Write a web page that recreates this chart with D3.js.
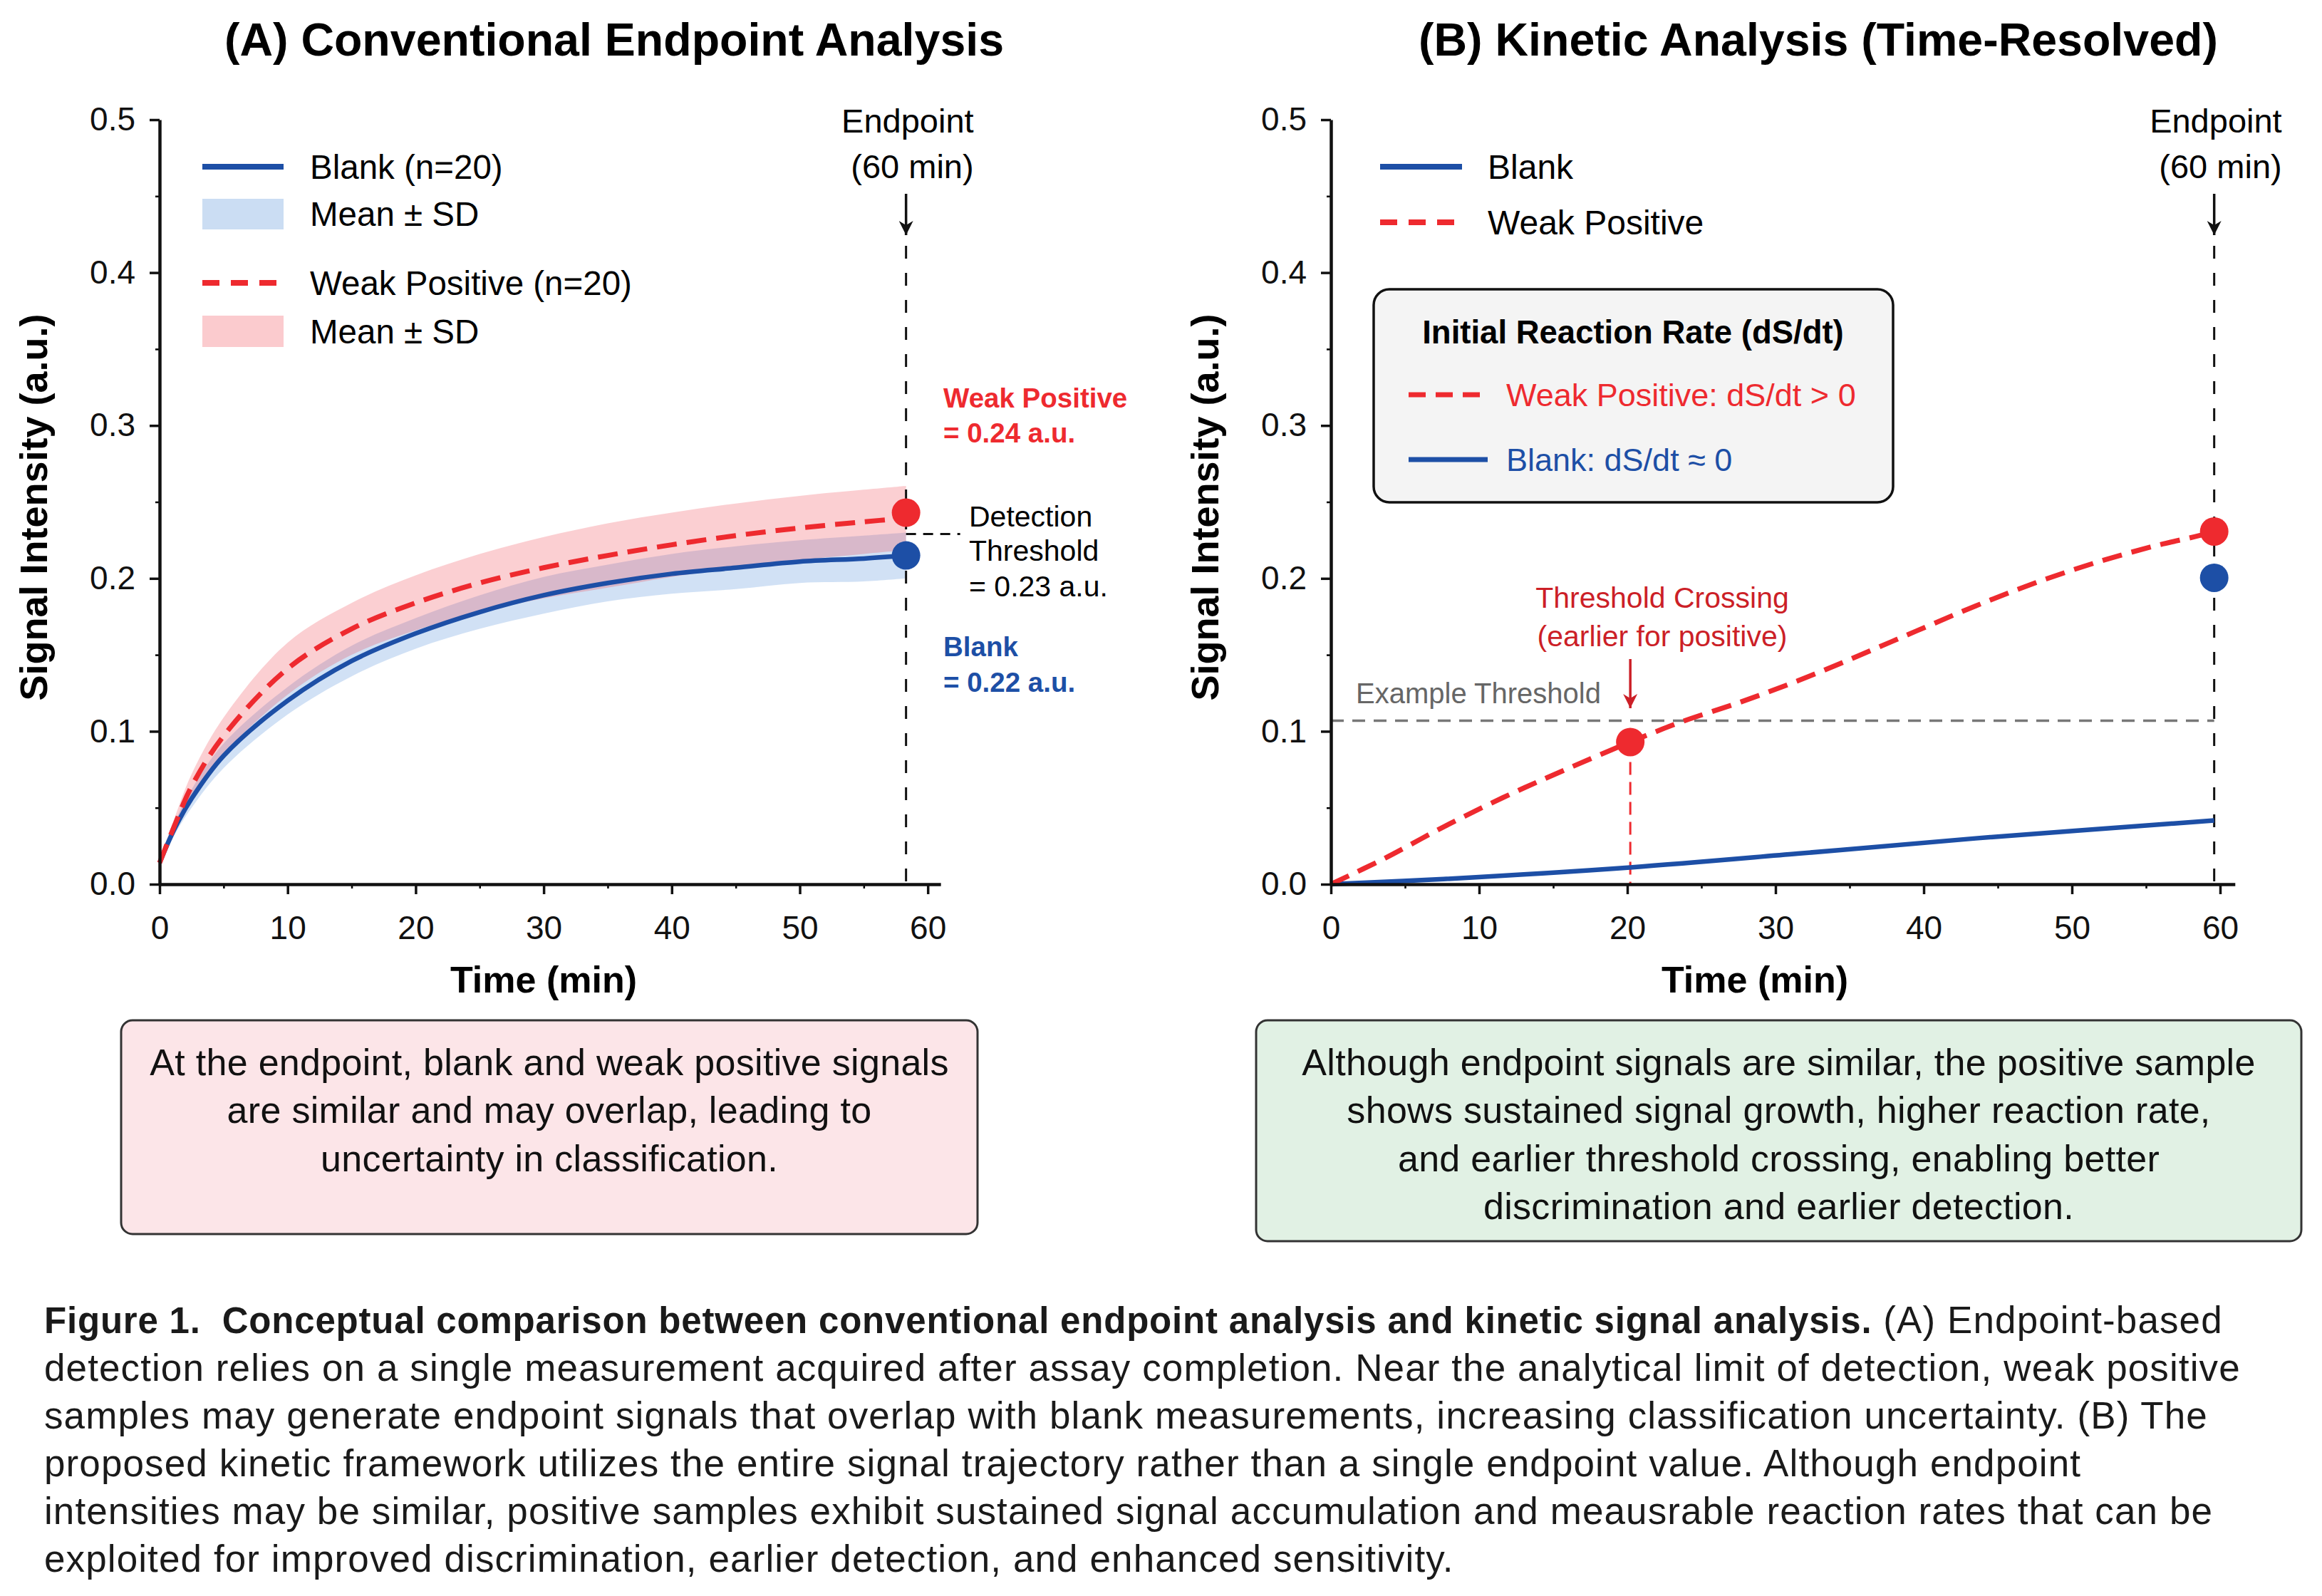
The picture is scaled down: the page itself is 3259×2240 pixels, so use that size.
<!DOCTYPE html>
<html>
<head>
<meta charset="utf-8">
<script src="https://cdn.jsdelivr.net/npm/d3@7"></script>
<style>
  body { margin: 0; background: #ffffff; }
  text { font-family: "Liberation Sans", Arial, Helvetica, sans-serif; }
</style>
</head>
<body>
<div id="chart"></div>
<script>
//Data

const ticksX = [0, 10, 20, 30, 40, 50, 60];
const minorX = [5, 15, 25, 35, 45, 55];
const ticksY = [0, 0.1, 0.2, 0.3, 0.4, 0.5];
const minorY = [0.05, 0.15, 0.25, 0.35, 0.45];

//Panel A: endpoint curves (mean and SD)
const timeA   = [0, 1.15, 2.5, 5, 10, 15, 20, 25, 30, 35, 40, 45, 50, 55, 58.3];
const blankA  = [0.014, 0.036, 0.056, 0.084, 0.120, 0.146, 0.164, 0.178, 0.189, 0.197, 0.203, 0.207, 0.211, 0.213, 0.215];
const blankSdA = [0.002, 0.004, 0.006, 0.008, 0.009, 0.010, 0.010, 0.011, 0.012, 0.012, 0.013, 0.014, 0.014, 0.015, 0.015];
const weakA   = [0.014, 0.038, 0.064, 0.097, 0.141, 0.167, 0.184, 0.197, 0.207, 0.215, 0.222, 0.228, 0.233, 0.237, 0.2395];
const weakSdA = [0.002, 0.005, 0.008, 0.012, 0.017, 0.017, 0.018, 0.019, 0.020, 0.021, 0.021, 0.021, 0.021, 0.021, 0.021];
const endpointA = 58.3;
const endDotsA = [0.243, 0.215];   // weak positive, blank
const detectionThreshold = 0.229;

//Panel B: kinetic curves
const timeWeakB = [0, 3.6, 7.6, 11.6, 15.6, 20.2, 23.6, 27.6, 31.5, 35.5, 39.5, 43.5, 47.5, 51.5, 55.5, 58.6, 59.6];
const weakB     = [0, 0.0168, 0.0375, 0.0566, 0.074, 0.093, 0.106, 0.119, 0.133, 0.149, 0.1656, 0.182, 0.197, 0.210, 0.221, 0.228, 0.2307];
const timeBlankB = [0, 7.6, 20.2, 31.5, 43.5, 59.6];
const blankB     = [0, 0.0034, 0.011, 0.020, 0.030, 0.0417];
const endpointB = 59.6;
const endDotsB = [0.2307, 0.2004];
const exampleThreshold = 0.107;
const crossing = {t: 20.2, v: 0.093};

//Texts
const boxTextA = ["At the endpoint, blank and weak positive signals",
                  "are similar and may overlap, leading to",
                  "uncertainty in classification."];
const boxTextB = ["Although endpoint signals are similar, the positive sample",
                  "shows sustained signal growth, higher reaction rate,",
                  "and earlier threshold crossing, enabling better",
                  "discrimination and earlier detection."];
const captionLines = [
  "detection relies on a single measurement acquired after assay completion. Near the analytical limit of detection, weak positive",
  "samples may generate endpoint signals that overlap with blank measurements, increasing classification uncertainty. (B) The",
  "proposed kinetic framework utilizes the entire signal trajectory rather than a single endpoint value. Although endpoint",
  "intensities may be similar, positive samples exhibit sustained signal accumulation and meausrable reaction rates that can be",
  "exploited for improved discrimination, earlier detection, and enhanced sensitivity."];

//Colours

const RED = "#ee2a2f", BLUE = "#1d4fa6", DARKRED = "#cc1f27";
const smooth = d3.curveCatmullRom.alpha(0.5);

//Create the SVG

const svg = d3.select("#chart")
  .append("svg")
  .attr("width", 3259)
  .attr("height", 2240);

svg.append("rect").attr("width", 3259).attr("height", 2240).attr("fill", "#ffffff");

const defs = svg.append("defs");
function arrowMarker(id, color){
  defs.append("marker")
    .attr("id", id)
    .attr("viewBox", "0 0 10 10")
    .attr("refX", 10).attr("refY", 5)
    .attr("markerUnits", "userSpaceOnUse")
    .attr("markerWidth", 20).attr("markerHeight", 20)
    .attr("orient", "auto")
    .append("path")
    .attr("d", "M0,0 L10,5 L0,10 L3,5 Z")
    .attr("fill", color);
}
arrowMarker("arrowBlack", "#111");
arrowMarker("arrowRed", DARKRED);

//Axes helper

function drawAxes(x, y, cx){
  const g = svg.append("g").style("font-size", "46px");

  g.append("g")
   .attr("transform", "translate(0," + y.range()[0] + ")")
   .call(d3.axisBottom(x).tickValues(minorX).tickSize(6).tickSizeOuter(0).tickFormat(""))
   .call(a => a.select(".domain").remove())
   .selectAll("line").attr("stroke-width", 2.5);

  g.append("g")
   .attr("transform", "translate(" + x.range()[0] + ",0)")
   .call(d3.axisLeft(y).tickValues(minorY).tickSize(6).tickSizeOuter(0).tickFormat(""))
   .call(a => a.select(".domain").remove())
   .selectAll("line").attr("stroke-width", 2.5);

  const xa = g.append("g")
   .attr("transform", "translate(0," + y.range()[0] + ")")
   .call(d3.axisBottom(x).tickValues(ticksX).tickSize(14).tickPadding(30).tickSizeOuter(0));
  const ya = g.append("g")
   .attr("transform", "translate(" + x.range()[0] + ",0)")
   .call(d3.axisLeft(y).tickValues(ticksY).tickSize(14).tickPadding(20).tickSizeOuter(0).tickFormat(d3.format(".1f")));

  [xa, ya].forEach(a => {
    a.select(".domain").attr("stroke-width", 4.5).attr("stroke", "#111");
    a.selectAll(".tick line").attr("stroke-width", 3.5).attr("stroke", "#111");
    a.selectAll(".tick text").attr("fill", "#111").style("font-size", "46px");
  });

  //axis titles
  g.append("text")
   .attr("transform", "translate(" + (x.range()[0] - 158) + ",712) rotate(-90)")
   .attr("text-anchor", "middle")
   .style("font-size", "54px").style("font-weight", "bold")
   .text("Signal Intensity (a.u.)");

  g.append("text")
   .attr("x", cx).attr("y", 1393)
   .attr("text-anchor", "middle")
   .style("font-size", "52px").style("font-weight", "bold")
   .text("Time (min)");
}

function endpointMarker(x, y, t){
  const ex = x(t);
  svg.append("text").attr("x", ex + 95).attr("y", 186).attr("text-anchor", "end")
     .style("font-size", "47px").text("Endpoint");
  svg.append("text").attr("x", ex + 95).attr("y", 250).attr("text-anchor", "end")
     .style("font-size", "47px").text("(60 min)");
  svg.append("line")
     .attr("x1", ex).attr("x2", ex).attr("y1", 272).attr("y2", 330)
     .attr("stroke", "#111").attr("stroke-width", 3.5)
     .attr("marker-end", "url(#arrowBlack)");
  svg.append("line")
     .attr("x1", ex).attr("x2", ex).attr("y1", 345).attr("y2", y(0))
     .attr("stroke", "#111").attr("stroke-width", 3)
     .attr("stroke-dasharray", "18,20");
}

/* ---------------- Panel A ---------------- */

const xA = d3.scaleLinear().domain([0, 61]).range([224, 224 + 61 * 17.97]);
const yA = d3.scaleLinear().domain([0, 0.5]).range([1241, 168]);

svg.append("text").attr("x", 862).attr("y", 78).attr("text-anchor", "middle")
   .style("font-size", "64.5px").style("font-weight", "bold")
   .text("(A) Conventional Endpoint Analysis");

const dataA = timeA.map((t, i) => ({t: t, b: blankA[i], bs: blankSdA[i], w: weakA[i], ws: weakSdA[i]}));

//SD bands
svg.append("path").datum(dataA)
   .attr("fill", "#2f78d0").attr("fill-opacity", 0.22)
   .attr("d", d3.area().curve(smooth)
     .x(d => xA(d.t)).y0(d => yA(d.b - d.bs)).y1(d => yA(d.b + d.bs)));
svg.append("path").datum(dataA)
   .attr("fill", "#f0404a").attr("fill-opacity", 0.25)
   .attr("d", d3.area().curve(smooth)
     .x(d => xA(d.t)).y0(d => yA(d.w - d.ws)).y1(d => yA(d.w + d.ws)));

endpointMarker(xA, yA, endpointA);

//Mean lines
svg.append("path").datum(dataA)
   .attr("fill", "none").attr("stroke", BLUE).attr("stroke-width", 6.5)
   .attr("d", d3.line().curve(smooth).x(d => xA(d.t)).y(d => yA(d.b)));
svg.append("path").datum(dataA)
   .attr("fill", "none").attr("stroke", RED).attr("stroke-width", 7)
   .attr("stroke-dasharray", "28,14")
   .attr("d", d3.line().curve(smooth).x(d => xA(d.t)).y(d => yA(d.w)));

//Detection threshold tick
svg.append("line")
   .attr("x1", xA(endpointA)).attr("x2", xA(endpointA) + 76)
   .attr("y1", yA(detectionThreshold)).attr("y2", yA(detectionThreshold))
   .attr("stroke", "#111").attr("stroke-width", 3).attr("stroke-dasharray", "14,10");

//Endpoint dots
svg.selectAll(".dotA").data(endDotsA).enter().append("circle")
   .attr("cx", xA(endpointA)).attr("cy", d => yA(d)).attr("r", 20)
   .attr("fill", (d, i) => i === 0 ? RED : BLUE);

drawAxes(xA, yA, 763);

//Legend A
const legA = svg.append("g").style("font-size", "47.5px");
legA.append("line").attr("x1", 284).attr("x2", 398).attr("y1", 234).attr("y2", 234)
    .attr("stroke", BLUE).attr("stroke-width", 8);
legA.append("rect").attr("x", 284).attr("y", 279).attr("width", 114).attr("height", 43)
    .attr("fill", "#2f78d0").attr("fill-opacity", 0.25);
legA.append("line").attr("x1", 284).attr("x2", 398).attr("y1", 397).attr("y2", 397)
    .attr("stroke", RED).attr("stroke-width", 8).attr("stroke-dasharray", "24,16");
legA.append("rect").attr("x", 284).attr("y", 443).attr("width", 114).attr("height", 44)
    .attr("fill", "#f0404a").attr("fill-opacity", 0.27);
[["Blank (n=20)", 251], ["Mean \u00b1 SD", 317], ["Weak Positive (n=20)", 414], ["Mean \u00b1 SD", 482]]
  .forEach(d => legA.append("text").attr("x", 435).attr("y", d[1]).text(d[0]));

//Annotations A
const annA = svg.append("g").style("font-size", "41px");
annA.append("text").attr("x", 1324).attr("y", 572).attr("fill", RED).style("font-weight", "bold").style("font-size", "38.5px").text("Weak Positive");
annA.append("text").attr("x", 1324).attr("y", 621).attr("fill", RED).style("font-weight", "bold").style("font-size", "38.5px").text("= 0.24 a.u.");
annA.append("text").attr("x", 1360).attr("y", 739).text("Detection");
annA.append("text").attr("x", 1360).attr("y", 787).text("Threshold");
annA.append("text").attr("x", 1360).attr("y", 837).text("= 0.23 a.u.");
annA.append("text").attr("x", 1324).attr("y", 921).attr("fill", BLUE).style("font-weight", "bold").style("font-size", "38.5px").text("Blank");
annA.append("text").attr("x", 1324).attr("y", 971).attr("fill", BLUE).style("font-weight", "bold").style("font-size", "38.5px").text("= 0.22 a.u.");

/* ---------------- Panel B ---------------- */

const xB = d3.scaleLinear().domain([0, 61]).range([1868, 1868 + 61 * 20.8]);
const yB = d3.scaleLinear().domain([0, 0.5]).range([1241, 168]);

svg.append("text").attr("x", 2552).attr("y", 78).attr("text-anchor", "middle")
   .style("font-size", "64.5px").style("font-weight", "bold")
   .text("(B) Kinetic Analysis (Time-Resolved)");

//Example threshold
svg.append("line")
   .attr("x1", xB(0)).attr("x2", xB(endpointB))
   .attr("y1", yB(exampleThreshold)).attr("y2", yB(exampleThreshold))
   .attr("stroke", "#777").attr("stroke-width", 3.5).attr("stroke-dasharray", "18,12");
svg.append("text").attr("x", 1903).attr("y", 987).attr("fill", "#666")
   .style("font-size", "40px").text("Example Threshold");

endpointMarker(xB, yB, endpointB);

//Crossing drop line
svg.append("line")
   .attr("x1", xB(crossing.t)).attr("x2", xB(crossing.t))
   .attr("y1", yB(crossing.v)).attr("y2", yB(0))
   .attr("stroke", RED).attr("stroke-width", 3).attr("stroke-dasharray", "18,10");

//Curves
const dataWeakB = timeWeakB.map((t, i) => ({t: t, v: weakB[i]}));
const dataBlankB = timeBlankB.map((t, i) => ({t: t, v: blankB[i]}));

svg.append("path").datum(dataBlankB)
   .attr("fill", "none").attr("stroke", BLUE).attr("stroke-width", 6.5)
   .attr("d", d3.line().curve(smooth).x(d => xB(d.t)).y(d => yB(d.v)));
svg.append("path").datum(dataWeakB)
   .attr("fill", "none").attr("stroke", RED).attr("stroke-width", 7)
   .attr("stroke-dasharray", "28,14")
   .attr("d", d3.line().curve(smooth).x(d => xB(d.t)).y(d => yB(d.v)));

svg.append("circle").attr("cx", xB(crossing.t)).attr("cy", yB(crossing.v)).attr("r", 20).attr("fill", RED);
svg.selectAll(".dotB").data(endDotsB).enter().append("circle")
   .attr("cx", xB(endpointB)).attr("cy", d => yB(d)).attr("r", 20)
   .attr("fill", (d, i) => i === 0 ? RED : BLUE);

//Crossing annotation
svg.append("text").attr("x", 2333).attr("y", 853).attr("text-anchor", "middle")
   .attr("fill", DARKRED).style("font-size", "41px").text("Threshold Crossing");
svg.append("text").attr("x", 2333).attr("y", 907).attr("text-anchor", "middle")
   .attr("fill", DARKRED).style("font-size", "41px").text("(earlier for positive)");
svg.append("line")
   .attr("x1", xB(crossing.t)).attr("x2", xB(crossing.t)).attr("y1", 925).attr("y2", 994)
   .attr("stroke", DARKRED).attr("stroke-width", 3.5).attr("marker-end", "url(#arrowRed)");

drawAxes(xB, yB, 2463);

//Legend B
const legB = svg.append("g").style("font-size", "48px");
legB.append("line").attr("x1", 1937).attr("x2", 2052).attr("y1", 234).attr("y2", 234)
    .attr("stroke", BLUE).attr("stroke-width", 8);
legB.append("line").attr("x1", 1937).attr("x2", 2052).attr("y1", 312).attr("y2", 312)
    .attr("stroke", RED).attr("stroke-width", 8).attr("stroke-dasharray", "24,16");
legB.append("text").attr("x", 2088).attr("y", 251).text("Blank");
legB.append("text").attr("x", 2088).attr("y", 329).text("Weak Positive");

//Rate box
const rate = svg.append("g").style("font-size", "45px");
rate.append("rect").attr("x", 1928).attr("y", 406).attr("width", 729).attr("height", 299)
    .attr("rx", 22).attr("fill", "#f4f4f4").attr("stroke", "#111").attr("stroke-width", 3.5);
rate.append("text").attr("x", 2292).attr("y", 482).attr("text-anchor", "middle")
    .style("font-weight", "bold").style("font-size", "45.5px").text("Initial Reaction Rate (dS/dt)");
rate.append("line").attr("x1", 1977).attr("x2", 2088).attr("y1", 554).attr("y2", 554)
    .attr("stroke", RED).attr("stroke-width", 7).attr("stroke-dasharray", "24,14");
rate.append("text").attr("x", 2114).attr("y", 570).attr("fill", RED).text("Weak Positive: dS/dt > 0");
rate.append("line").attr("x1", 1977).attr("x2", 2088).attr("y1", 645).attr("y2", 645)
    .attr("stroke", BLUE).attr("stroke-width", 7);
rate.append("text").attr("x", 2114).attr("y", 661).attr("fill", BLUE).text("Blank: dS/dt \u2248 0");

/* ---------------- Text boxes ---------------- */

function textBox(x, y, w, h, fill, lines){
  svg.append("rect").attr("x", x).attr("y", y).attr("width", w).attr("height", h)
     .attr("rx", 16).attr("fill", fill).attr("stroke", "#333").attr("stroke-width", 3);
  svg.selectAll(null).data(lines).enter().append("text")
     .attr("x", x + w / 2).attr("y", (d, i) => 1509 + i * 67.3)
     .attr("text-anchor", "middle").attr("fill", "#111")
     .style("font-size", "52px").style("letter-spacing", "0.3px").text(d => d);
}
textBox(170, 1432, 1202, 300, "#fce5e8", boxTextA);
textBox(1763, 1432, 1467, 310, "#e1f1e4", boxTextB);

/* ---------------- Caption ---------------- */

const cap = svg.append("g").style("font-size", "53px").style("letter-spacing", "1.1px").attr("fill", "#1a1a1a");
const first = cap.append("text").attr("x", 62).attr("y", 1871).attr("xml:space", "preserve");
first.append("tspan").style("font-weight", "bold").style("font-size", "51px").style("letter-spacing", "0.8px")
     .text("Figure 1.  Conceptual comparison between conventional endpoint analysis and kinetic signal analysis.");
first.append("tspan").text(" (A) Endpoint-based");
cap.selectAll(null).data(captionLines).enter().append("text")
   .attr("x", 62).attr("y", (d, i) => 1938 + i * 67)
   .text(d => d);
</script>
</body>
</html>
